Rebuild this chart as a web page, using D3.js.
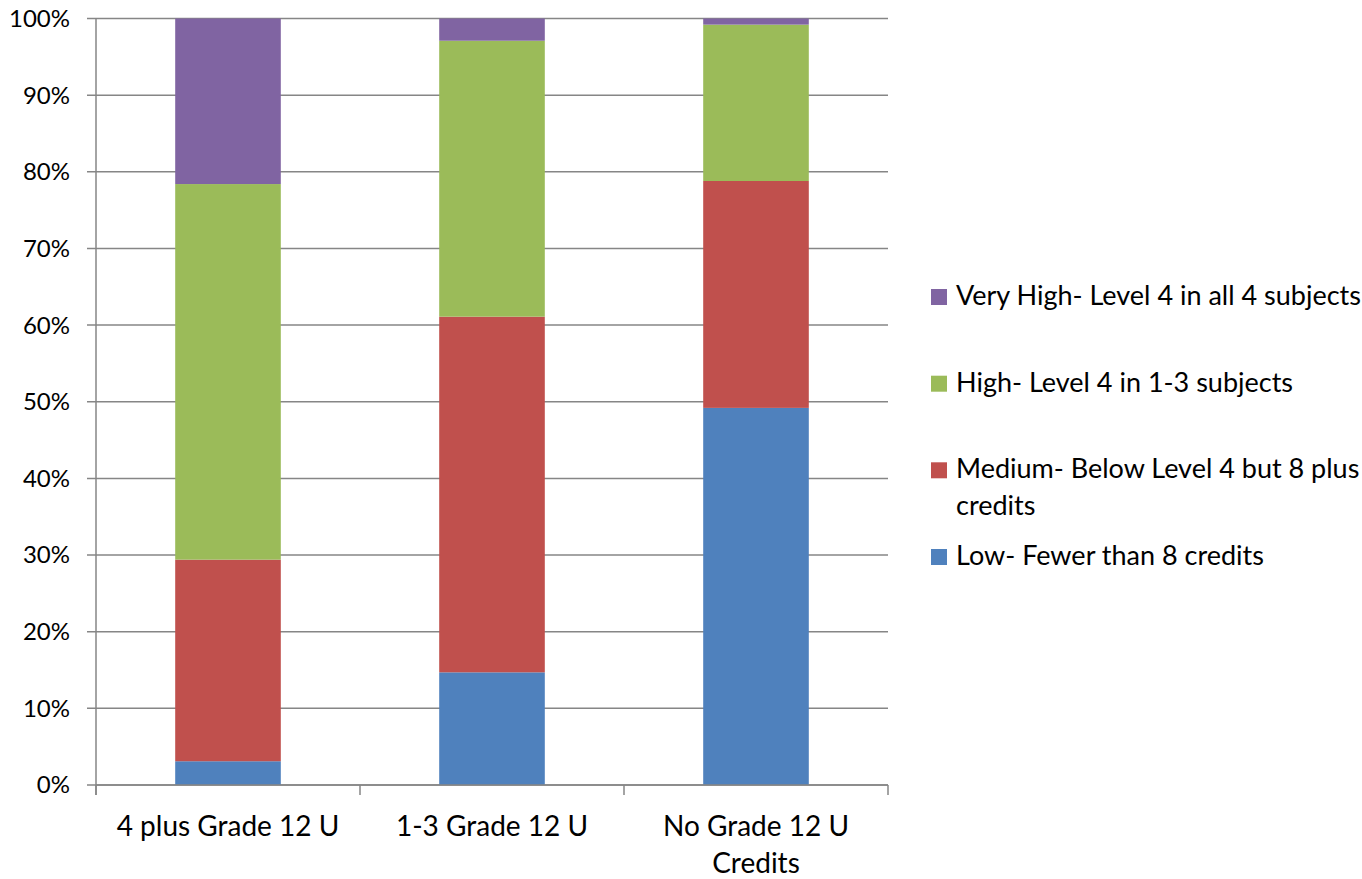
<!DOCTYPE html>
<html>
<head>
<meta charset="utf-8">
<script src="https://cdn.jsdelivr.net/npm/d3@7"></script>
<style>
  html, body { margin: 0; padding: 0; background: #fff; }
  svg text { font-family: Lato, "Open Sans", sans-serif; fill: #000; }
</style>
</head>
<body>
<svg id="chart" width="1362" height="879"></svg>
<script>
// Categories along the x axis (label lines)
const categories = ["4 plus Grade 12 U", "1-3 Grade 12 U", "No Grade 12 U Credits"];
const categoryLines = [["4 plus Grade 12 U"], ["1-3 Grade 12 U"], ["No Grade 12 U", "Credits"]];

// Share of students in each achievement band (percent)
const low      = [3.1, 14.7, 49.2];
const medium   = [26.3, 46.4, 29.6];
const high     = [49.0, 36.0, 20.4];
const veryHigh = [21.6, 2.9, 0.8];

const seriesNames = [
  "Low- Fewer than 8 credits",
  "Medium- Below Level 4 but 8 plus credits",
  "High- Level 4 in 1-3 subjects",
  "Very High- Level 4 in all 4 subjects"
];
const seriesColors = ["#4F81BD", "#C0504D", "#9BBB59", "#8064A2"];
const legendLines = [
  ["Low- Fewer than 8 credits"],
  ["Medium- Below Level 4 but 8 plus", "credits"],
  ["High- Level 4 in 1-3 subjects"],
  ["Very High- Level 4 in all 4 subjects"]
];
const yTicks = [0, 10, 20, 30, 40, 50, 60, 70, 80, 90, 100];

const rows = categories.map((c, i) => ({
  cat: c,
  [seriesNames[0]]: low[i],
  [seriesNames[1]]: medium[i],
  [seriesNames[2]]: high[i],
  [seriesNames[3]]: veryHigh[i]
}));

const svg = d3.select("#chart");
const plot = { left: 96, right: 888, top: 18.5, bottom: 785 };

const x = d3.scaleBand().domain(categories).range([plot.left, plot.right]).paddingInner(0.6).paddingOuter(0.3);
const y = d3.scaleLinear().domain([0, 100]).range([plot.bottom, plot.top]);

const gridColor = "#868686";

// Horizontal gridlines with short ticks left of the axis
svg.append("g").selectAll("line").data(yTicks).join("line")
  .attr("x1", plot.left - 9).attr("x2", plot.right)
  .attr("y1", d => y(d)).attr("y2", d => y(d))
  .attr("stroke", gridColor).attr("stroke-width", 1.5);

// Y tick labels
svg.append("g").selectAll("text").data(yTicks).join("text")
  .attr("x", 70).attr("y", d => y(d)).attr("dy", "0.35em")
  .attr("text-anchor", "end").attr("font-size", 24)
  .text(d => d + "%");

// Stacked bars
const stack = d3.stack().keys(seriesNames);
const layers = stack(rows);
svg.append("g").selectAll("g").data(layers).join("g")
  .attr("fill", (d, i) => seriesColors[i])
  .selectAll("rect").data(d => d).join("rect")
  .attr("x", d => x(d.data.cat))
  .attr("width", x.bandwidth())
  .attr("y", d => y(d[1]))
  .attr("height", d => y(d[0]) - y(d[1]));

// Axes lines
svg.append("line").attr("x1", plot.left).attr("x2", plot.left)
  .attr("y1", plot.top).attr("y2", plot.bottom + 10)
  .attr("stroke", gridColor).attr("stroke-width", 1.5);
svg.append("line").attr("x1", plot.left).attr("x2", plot.right)
  .attr("y1", plot.bottom).attr("y2", plot.bottom)
  .attr("stroke", gridColor).attr("stroke-width", 1.5);

// Category boundary ticks below the x axis
const boundaries = d3.range(categories.length + 1).map(i => plot.left + i * (plot.right - plot.left) / categories.length);
svg.append("g").selectAll("line").data(boundaries).join("line")
  .attr("x1", d => d).attr("x2", d => d)
  .attr("y1", plot.bottom).attr("y2", plot.bottom + 10)
  .attr("stroke", gridColor).attr("stroke-width", 1.5);

// Category labels
const catG = svg.append("g").selectAll("text").data(categories).join("text")
  .attr("text-anchor", "middle").attr("font-size", 28)
  .attr("x", d => x(d) + x.bandwidth() / 2)
  .attr("y", 836);
catG.selectAll("tspan").data((d, i) => categoryLines[i]).join("tspan")
  .attr("x", function () { return d3.select(this.parentNode).attr("x"); })
  .attr("dy", (d, i) => i === 0 ? 0 : 37)
  .text(d => d);

// Legend (top entry is the top of the stack)
const legendOrder = [3, 2, 1, 0];
const legendBase = [305, 391.7, 478.3, 565];
const legend = svg.append("g").selectAll("g").data(legendOrder).join("g");
legend.append("rect")
  .attr("x", 931).attr("y", (d, i) => legendBase[i] - 16)
  .attr("width", 16).attr("height", 16)
  .attr("fill", d => seriesColors[d]);
const lt = legend.append("text")
  .attr("x", 956).attr("y", (d, i) => legendBase[i])
  .attr("font-size", 27);
lt.selectAll("tspan").data(d => legendLines[d]).join("tspan")
  .attr("x", 956)
  .attr("dy", (d, i) => i === 0 ? 0 : 37)
  .text(d => d);
</script>
</body>
</html>
